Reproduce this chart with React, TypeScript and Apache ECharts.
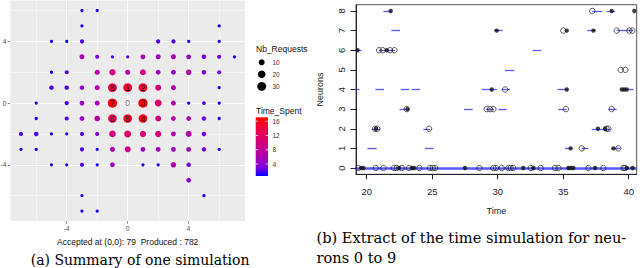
import { useEffect, useRef } from "react";
import * as echarts from "echarts";

const sans = "'Liberation Sans', Arial, sans-serif";
const serif = "'DejaVu Serif', 'Liberation Serif', serif";

// ---------- (a) Summary of one simulation ----------
// [x, y, Nb_Requests, Time_Spent]
const summaryPoints: number[][] = [
  [-3, 6, 1, 1], [-2, 6, 1, 1],
  [-3, 5, 1, 1], [6, 5, 1, 1],
  [-5, 4, 1, 1], [-4, 4, 1, 1], [-3, 4, 3, 2], [2, 4, 3, 2], [3, 4, 3, 2], [4, 4, 1, 1], [6, 4, 1, 1],
  [-3, 3, 6, 6], [-2, 3, 3, 3], [-1, 3, 1, 2], [0, 3, 1, 2], [1, 3, 5, 6], [2, 3, 6, 5], [3, 3, 6, 6], [4, 3, 5, 5], [5, 3, 4, 3], [6, 3, 3, 3], [7, 3, 1, 1],
  [-5, 2, 1, 1], [-4, 2, 3, 2], [-2, 2, 6, 7], [-1, 2, 12, 10], [0, 2, 6, 6], [1, 2, 10, 10], [2, 2, 5, 5], [3, 2, 5, 4], [4, 2, 8, 7], [5, 2, 4, 3], [6, 2, 3, 3],
  [-5, 1, 4, 2], [-4, 1, 4, 2], [-3, 1, 4, 4], [-2, 1, 6, 7], [-1, 1, 30, 14], [0, 1, 30, 15], [1, 1, 30, 15], [2, 1, 10, 10], [3, 1, 6, 6], [6, 1, 1, 1],
  [-6, 0, 1, 1], [-4, 0, 3, 2], [-3, 0, 5, 5], [-2, 0, 6, 6], [-1, 0, 34, 17], [1, 0, 34, 17], [2, 0, 16, 11], [3, 0, 6, 6], [4, 0, 1, 1], [5, 0, 2, 2], [6, 0, 1, 1],
  [-6, -1, 1, 1], [-4, -1, 3, 2], [-3, -1, 5, 5], [-2, -1, 8, 7], [-1, -1, 28, 13], [0, -1, 28, 15], [1, -1, 28, 16], [2, -1, 10, 10], [3, -1, 5, 6], [4, -1, 5, 6], [5, -1, 4, 3], [6, -1, 1, 1],
  [-7, -2, 3, 2], [-6, -2, 4, 2], [-5, -2, 1, 1], [-4, -2, 1, 1], [-3, -2, 3, 2], [-2, -2, 3, 3], [-1, -2, 14, 10], [0, -2, 16, 12], [1, -2, 12, 10], [2, -2, 12, 10], [3, -2, 5, 6], [4, -2, 10, 7], [5, -2, 4, 3],
  [-7, -3, 1, 1], [-6, -3, 1, 1], [-3, -3, 3, 2], [-2, -3, 1, 1], [-1, -3, 6, 6], [0, -3, 10, 9], [1, -3, 5, 5], [2, -3, 5, 5], [3, -3, 5, 5], [4, -3, 5, 5], [5, -3, 4, 3], [6, -3, 1, 1],
  [-5, -4, 1, 1], [-4, -4, 1, 1], [-3, -4, 3, 2], [-2, -4, 1, 1], [-1, -4, 5, 5], [1, -4, 1, 1], [2, -4, 1, 1], [3, -4, 8, 7], [4, -4, 4, 3],
  [4, -5, 5, 4],
  [-3, -6, 1, 1], [5, -6, 1, 1],
  [-3, -7, 1, 1], [-2, -7, 1, 1],
];
const neuronLabels: [number, number, string][] = [
  [0, 0, "0"], [0, 1, "1"], [1, 1, "2"], [1, 0, "3"], [1, -1, "4"],
  [0, -1, "5"], [-1, -1, "6"], [-1, 0, "7"], [-1, 1, "8"],
];
const ticksA = [-4, 0, 4];
const majorGridA = [-4, 0, 4];
const minorGridA = [-6, -2, 2, 6];
const sizeLegendValues = [10, 20, 30];
const timeLegendTicks = [4, 8, 12, 16];
const timeRange = [0.65, 17.1];
const acceptedAtOrigin = 79;
const produced = 782;

// ---------- (b) Extract of the time simulation ----------
const neuronTicks = [0, 1, 2, 3, 4, 5, 6, 7, 8];
const timeTicks = [20, 25, 30, 35, 40];
// [neuron, start, end]
const intervals: number[][] = [
  [0, 19.18, 40.61],
  [1, 20.05, 20.76], [1, 24.45, 25.09], [1, 35.14, 35.65], [1, 36.41, 36.92], [1, 38.7, 39.34],
  [2, 20.38, 21.02], [2, 24.32, 24.83], [2, 37.18, 38.57],
  [3, 22.5, 23.25], [3, 27.43, 28.09], [3, 29.11, 29.72], [3, 30.05, 30.69], [3, 34.63, 35.27], [3, 38.45, 39.08],
  [4, 19.18, 19.44], [4, 20.66, 21.32], [4, 22.6, 23.25], [4, 23.43, 24.07], [4, 28.78, 29.92], [4, 30.3, 30.94], [4, 34.55, 35.39], [4, 39.47, 40.36],
  [5, 30.56, 31.27],
  [6, 19.18, 19.6], [6, 20.93, 22.15], [6, 32.67, 33.33],
  [7, 21.88, 22.54], [7, 29.72, 30.38], [7, 36.84, 37.5], [7, 39.08, 40.33],
  [8, 21.27, 21.91], [8, 37.22, 37.98], [8, 38.32, 38.95],
];
// [time, neuron]
const openEvents: number[][] = [
  [19.36, 0], [20.69, 0], [21.27, 0], [22.08, 0], [22.29, 0], [22.67, 0], [23.23, 0], [24.02, 0], [24.83, 0], [25.04, 0], [25.21, 0],
  [28.6, 0], [29.67, 0], [29.87, 0], [30.3, 0], [30.81, 0], [30.99, 0], [31.19, 0], [32.52, 0], [33.28, 0], [34.37, 0], [34.63, 0],
  [36.92, 0], [38.06, 0], [39.59, 0], [39.72, 0],
  [36.41, 1], [39.21, 1],
  [20.63, 2], [20.81, 2], [24.76, 2], [38.3, 2], [38.45, 2],
  [23.05, 3], [29.16, 3], [29.41, 3], [29.67, 3], [35.21, 3], [38.7, 3],
  [30.56, 4],
  [39.39, 5], [39.74, 5],
  [20.94, 6], [21.22, 6], [21.78, 6], [22.11, 6],
  [35.01, 7], [39.08, 7], [40.05, 7], [40.28, 7],
  [37.22, 8],
];
const filledEvents: number[][] = [
  [19.57, 0], [19.75, 0], [22.47, 0], [23.44, 0], [23.61, 0], [27.5, 0], [31.95, 0], [32.72, 0], [35.39, 0], [35.57, 0], [35.77, 0],
  [37.43, 0], [39.85, 0], [40.3, 0],
  [35.57, 1], [38.83, 1],
  [20.7, 2], [37.65, 2], [38.2, 2],
  [23.1, 3],
  [29.54, 4], [35.27, 4], [39.47, 4], [39.65, 4], [39.85, 4],
  [19.3, 6], [21.53, 6],
  [29.92, 7], [35.27, 7], [37.3, 7],
  [21.83, 8], [38.7, 8], [40.43, 8],
];

const colorStops = ["#0000ff", "#7300e0", "#9a00c2", "#b400a7", "#c90089", "#d9006d", "#e80050", "#f4002c", "#ff0000"];

function sizeOf(n: number) {
  return 2 + 1.25 * Math.sqrt(n);
}

export default function App() {
  const ref = useRef<HTMLDivElement>(null);
  useEffect(() => {
    const chart = echarts.init(ref.current!, undefined, { renderer: "svg" });

    const labelAt = (x: number, y: number) => {
      const f = neuronLabels.find((l) => l[0] === x && l[1] === y);
      return f ? f[2] : null;
    };
    const hasPoint = (x: number, y: number) => summaryPoints.some((p) => p[0] === x && p[1] === y);

    // colour bar geometry
    const cbX = 255.7, cbTop = 117.3, cbBottom = 176, cbW = 12.3;
    const cbY = (v: number) => cbBottom - ((v - timeRange[0]) / (timeRange[1] - timeRange[0])) * (cbBottom - cbTop);

    const graphics: any[] = [];
    graphics.push({ type: "text", x: 256, y: 49.3, style: { text: "Nb_Requests", fontSize: 8.5, fontFamily: sans, fill: "#111", verticalAlign: "middle", align: "left" } });
    sizeLegendValues.forEach((v, i) => {
      const cy = 62.3 + i * 12;
      graphics.push({ type: "circle", shape: { cx: 261.7, cy, r: sizeOf(v) / 2 }, style: { fill: "#000" } });
      graphics.push({ type: "text", x: 272.5, y: cy, style: { text: String(v), fontSize: 6.5, fontFamily: sans, fill: "#333", verticalAlign: "middle", align: "left" } });
    });
    graphics.push({ type: "text", x: 256, y: 111, style: { text: "Time_Spent", fontSize: 8.5, fontFamily: sans, fill: "#111", verticalAlign: "middle", align: "left" } });
    graphics.push({
      type: "rect",
      shape: { x: cbX, y: cbTop, width: cbW, height: cbBottom - cbTop },
      style: {
        fill: new echarts.graphic.LinearGradient(0, 1, 0, 0, colorStops.map((c, i) => ({ offset: i / (colorStops.length - 1), color: c }))),
      },
    });
    timeLegendTicks.forEach((v) => {
      const y = cbY(v);
      graphics.push({ type: "line", shape: { x1: cbX, y1: y, x2: cbX + 2.4, y2: y }, style: { stroke: "#fff", lineWidth: 0.8 } });
      graphics.push({ type: "line", shape: { x1: cbX + cbW - 2.4, y1: y, x2: cbX + cbW, y2: y }, style: { stroke: "#fff", lineWidth: 0.8 } });
      graphics.push({ type: "text", x: 272.5, y, style: { text: String(v), fontSize: 6.5, fontFamily: sans, fill: "#333", verticalAlign: "middle", align: "left" } });
    });
    graphics.push({ type: "text", x: 30.7, y: 259.8, style: { text: "(a) Summary of one simulation", fontSize: 14, fontFamily: serif, fill: "#000", verticalAlign: "middle", align: "left" } });
    graphics.push({ type: "text", x: 316.5, y: 237, style: { text: "(b) Extract of the time simulation for neu-", fontSize: 14.6, fontFamily: serif, fill: "#000", verticalAlign: "middle", align: "left" } });
    graphics.push({ type: "text", x: 316.5, y: 257.3, style: { text: "rons 0 to 9", fontSize: 14.6, fontFamily: serif, fill: "#000", verticalAlign: "middle", align: "left" } });

    const gridMarks = [
      ...majorGridA.map((v) => ({ xAxis: v, lineStyle: { color: "#fff", width: 1.1, type: "solid" } })),
      ...majorGridA.map((v) => ({ yAxis: v, lineStyle: { color: "#fff", width: 1.1, type: "solid" } })),
      ...minorGridA.map((v) => ({ xAxis: v, lineStyle: { color: "#fff", width: 0.5, type: "solid" } })),
      ...minorGridA.map((v) => ({ yAxis: v, lineStyle: { color: "#fff", width: 0.5, type: "solid" } })),
    ];

    const pointData = summaryPoints.map((p) => {
      const t = labelAt(p[0], p[1]);
      return t
        ? { value: p, label: { show: true, position: "inside", formatter: t, color: "#1a1a1a", fontSize: 8.5, fontFamily: sans, textBorderWidth: 0 } }
        : { value: p };
    });
    const looseLabels = neuronLabels.filter(([x, y]) => !hasPoint(x, y));

    const option: any = {
      animation: false,
      backgroundColor: "#fff",
      textStyle: { fontFamily: sans },
      grid: [
        { left: 10.3, top: 0.5, width: 234.8, height: 220.6, show: true, backgroundColor: "#ebebeb", borderWidth: 0, containLabel: false, outerBoundsMode: "none" },
        { left: 356, top: 4.7, width: 280.7, height: 169.6, show: true, backgroundColor: "transparent", borderColor: "#555", borderWidth: 1, containLabel: false, outerBoundsMode: "none" },
      ],
      xAxis: [
        {
          type: "value", gridIndex: 0, min: -7.7, max: 7.7,
          axisLine: { show: false, onZero: false },
          splitLine: { show: false },
          axisTick: { show: true, customValues: ticksA, length: 2.5, lineStyle: { color: "#333", width: 0.6 } },
          axisLabel: { customValues: ticksA, color: "#4d4d4d", fontSize: 6.5, margin: 4, fontFamily: sans },
          name: `Accepted at (0,0): ${acceptedAtOrigin}  Produced : ${produced}`,
          nameLocation: "middle", nameGap: 11,
          nameTextStyle: { fontSize: 8.5, color: "#111", fontFamily: sans },
        },
        {
          type: "value", gridIndex: 1, min: 19.18, max: 40.61,
          axisLine: { show: true, onZero: false, lineStyle: { color: "#222", width: 1 } },
          splitLine: { show: false },
          axisTick: { show: true, customValues: timeTicks, length: 5, lineStyle: { color: "#222", width: 1 } },
          axisLabel: { customValues: timeTicks, color: "#222", fontSize: 9.5, margin: 12, fontFamily: sans },
          name: "Time", nameLocation: "middle", nameGap: 32,
          nameTextStyle: { fontSize: 9, color: "#222", fontFamily: sans },
        },
      ],
      yAxis: [
        {
          type: "value", gridIndex: 0, min: -7.65, max: 6.65,
          axisLine: { show: false, onZero: false },
          splitLine: { show: false },
          axisTick: { show: true, customValues: ticksA, length: 2.5, lineStyle: { color: "#333", width: 0.6 } },
          axisLabel: { customValues: ticksA, color: "#4d4d4d", fontSize: 6.5, margin: 4, fontFamily: sans },
        },
        {
          type: "value", gridIndex: 1, min: -0.32, max: 8.32,
          axisLine: { show: true, onZero: false, lineStyle: { color: "#222", width: 1 } },
          splitLine: { show: false },
          axisTick: { show: true, customValues: neuronTicks, length: 5.5, lineStyle: { color: "#222", width: 1 } },
          axisLabel: { customValues: neuronTicks, rotate: 90, color: "#222", fontSize: 9.5, margin: 10, fontFamily: sans },
          name: "Neurons", nameLocation: "middle", nameRotate: 90, nameGap: 32,
          nameTextStyle: { fontSize: 9, color: "#222", fontFamily: sans },
        },
      ],
      visualMap: [
        {
          type: "continuous", show: false, seriesIndex: 1, dimension: 3,
          min: timeRange[0], max: timeRange[1],
          inRange: { color: colorStops },
        },
      ],
      series: [
        {
          type: "scatter", xAxisIndex: 0, yAxisIndex: 0, data: [], z: 1, silent: true,
          markLine: { z: 1, silent: true, symbol: ["none", "none"], label: { show: false }, data: gridMarks, animation: false },
        },
        {
          type: "scatter", xAxisIndex: 0, yAxisIndex: 0, z: 6,
          data: pointData,
          symbolSize: (v: number[]) => sizeOf(v[2]),
          itemStyle: { opacity: 1 },
          label: { show: false },
        },
        {
          type: "scatter", xAxisIndex: 0, yAxisIndex: 0, z: 8, symbol: "circle", symbolSize: 8,
          data: looseLabels,
          itemStyle: { color: "rgba(0,0,0,0)" },
          label: { show: true, position: "inside", formatter: (p: any) => p.value[2], color: "#555", fontSize: 8.5, fontFamily: sans },
        },
        {
          type: "lines", coordinateSystem: "cartesian2d", xAxisIndex: 1, yAxisIndex: 1, z: 2, polyline: false,
          data: intervals.map(([n, s, e]) => ({
            coords: [[s, n], [e, n]],
            lineStyle: n === 0 ? { width: 2.6, opacity: 0.8 } : undefined,
          })),
          lineStyle: { color: "#2f2fff", width: 1.3, opacity: 0.8 },
        },
        {
          type: "scatter", xAxisIndex: 1, yAxisIndex: 1, z: 3, symbol: "circle", symbolSize: 5.4,
          data: openEvents,
          itemStyle: { color: "rgba(0,0,0,0)", borderColor: "#1a1a1a", borderWidth: 0.9 },
        },
        {
          type: "scatter", xAxisIndex: 1, yAxisIndex: 1, z: 4, symbol: "circle", symbolSize: 4.4,
          data: filledEvents,
          itemStyle: { color: "#111" },
        },
      ],
      graphic: graphics,
    };
    chart.setOption(option);
    return () => chart.dispose();
  }, []);
  return <div ref={ref} style={{ position: "absolute", left: 0, top: 0, width: 640, height: 268, background: "#fff" }} />;
}
